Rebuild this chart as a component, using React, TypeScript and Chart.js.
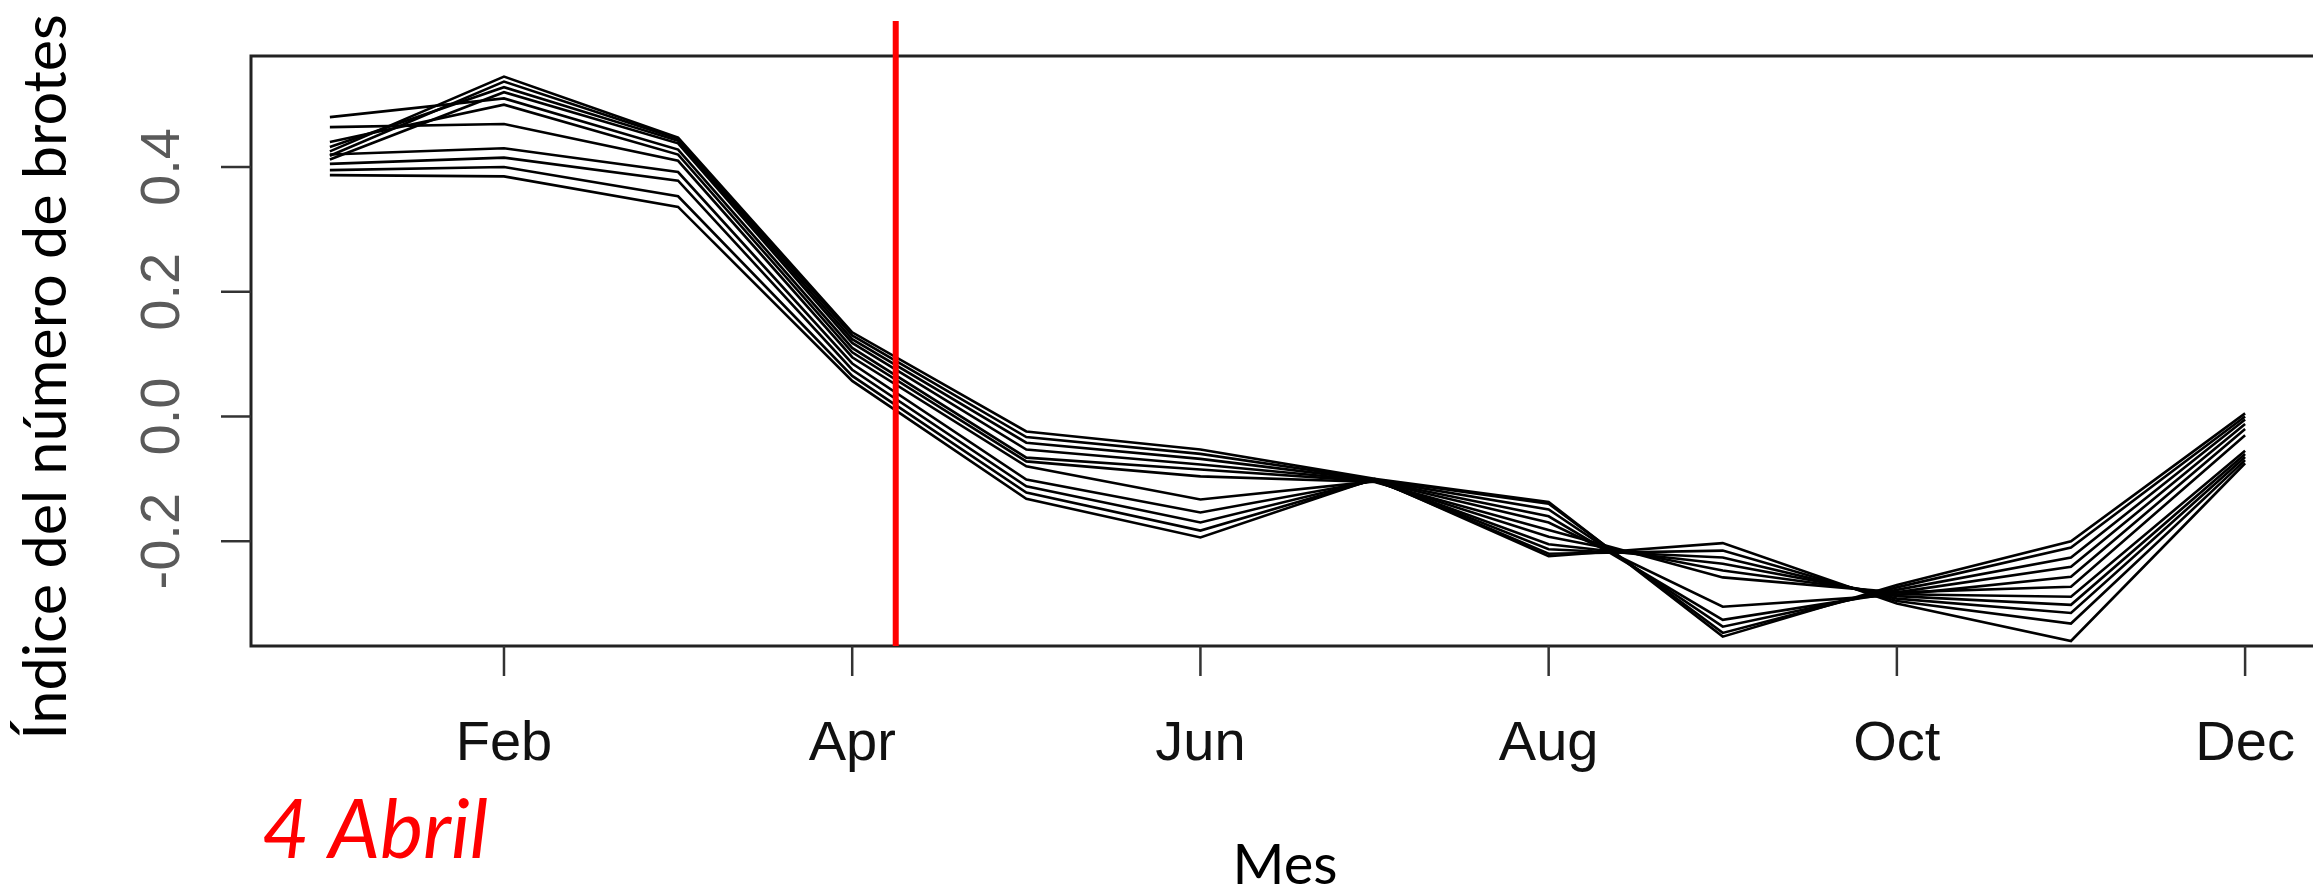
import React, { useEffect, useRef } from "react";
import { Chart, registerables } from "chart.js";

Chart.register(...registerables);

const months = ["Jan", "Feb", "Mar", "Apr", "May", "Jun", "Jul", "Aug", "Sep", "Oct", "Nov", "Dec"];
const tickMonths = [2, 4, 6, 8, 10, 12];
const yTicks = [-0.2, 0.0, 0.2, 0.4];
const yTickLabels = ["-0.2", "0.0", "0.2", "0.4"];
const redLineMonth = 4.25;

const L1 = [0.425, 0.545, 0.447, 0.135, -0.024, -0.053, -0.100, -0.224, -0.203, -0.300, -0.360, -0.075];
const L2 = [0.418, 0.537, 0.445, 0.130, -0.033, -0.060, -0.101, -0.220, -0.215, -0.296, -0.332, -0.070];
const L3 = [0.432, 0.528, 0.442, 0.124, -0.042, -0.068, -0.102, -0.213, -0.226, -0.292, -0.315, -0.065];
const L4 = [0.412, 0.520, 0.438, 0.118, -0.053, -0.077, -0.103, -0.205, -0.236, -0.288, -0.302, -0.060];
const L5 = [0.480, 0.510, 0.428, 0.110, -0.066, -0.085, -0.104, -0.193, -0.247, -0.285, -0.289, -0.055];
const L6 = [0.440, 0.500, 0.420, 0.103, -0.072, -0.096, -0.105, -0.182, -0.258, -0.282, -0.273, -0.030];
const L7 = [0.464, 0.469, 0.410, 0.095, -0.080, -0.133, -0.104, -0.170, -0.305, -0.286, -0.257, -0.020];
const L8 = [0.420, 0.430, 0.392, 0.085, -0.101, -0.154, -0.103, -0.160, -0.326, -0.282, -0.241, -0.012];
const L9 = [0.405, 0.415, 0.378, 0.075, -0.112, -0.170, -0.102, -0.149, -0.337, -0.278, -0.226, -0.005];
const L10 = [0.395, 0.400, 0.353, 0.065, -0.122, -0.183, -0.101, -0.140, -0.347, -0.274, -0.210, 0.000];
const L11 = [0.387, 0.385, 0.336, 0.057, -0.132, -0.194, -0.100, -0.137, -0.353, -0.270, -0.200, 0.005];

const seriesList = [L1, L2, L3, L4, L5, L6, L7, L8, L9, L10, L11];

function fitFont(ctx: CanvasRenderingContext2D, text: string, style: string, family: string, width: number) {
  ctx.font = `${style} 100px ${family}`;
  const w = ctx.measureText(text).width;
  const size = (100 * width) / w;
  return `${style} ${size.toFixed(1)}px ${family}`;
}

const decorPlugin = {
  id: "decor",
  afterDraw(chart: any) {
    const ctx: CanvasRenderingContext2D = chart.ctx;
    const xs = chart.scales.x;
    const ys = chart.scales.y;
    const area = chart.chartArea;
    const boxRight = xs.getPixelForValue(12.44);
    ctx.save();
    // box
    ctx.strokeStyle = "#222";
    ctx.lineWidth = 3;
    ctx.beginPath();
    ctx.rect(area.left, area.top, boxRight - area.left, area.bottom - area.top);
    ctx.stroke();
    // x ticks
    ctx.lineWidth = 2.5;
    ctx.strokeStyle = "#333";
    ctx.fillStyle = "#111";
    ctx.font = "56px 'Liberation Sans', Arial, sans-serif";
    ctx.textAlign = "center";
    ctx.textBaseline = "alphabetic";
    tickMonths.forEach((m) => {
      const px = xs.getPixelForValue(m);
      ctx.beginPath();
      ctx.moveTo(px, area.bottom);
      ctx.lineTo(px, area.bottom + 30);
      ctx.stroke();
      ctx.fillText(months[m - 1], px, 760);
    });
    // y ticks
    ctx.fillStyle = "#5a5a5a";
    yTicks.forEach((v, i) => {
      const py = ys.getPixelForValue(v);
      ctx.beginPath();
      ctx.moveTo(area.left, py);
      ctx.lineTo(area.left - 30, py);
      ctx.stroke();
      ctx.save();
      ctx.translate(179, py);
      ctx.rotate(-Math.PI / 2);
      ctx.textAlign = "center";
      ctx.fillText(yTickLabels[i], 0, 0);
      ctx.restore();
    });
    // red line
    const rx = xs.getPixelForValue(redLineMonth);
    ctx.strokeStyle = "#ff0000";
    ctx.lineWidth = 6;
    ctx.beginPath();
    ctx.moveTo(rx, 21);
    ctx.lineTo(rx, area.bottom);
    ctx.stroke();
    // y title
    ctx.fillStyle = "#000";
    ctx.save();
    ctx.translate(66, 377);
    ctx.rotate(-Math.PI / 2);
    ctx.font = fitFont(ctx, "Índice del número de brotes", "normal", "Lato, 'Open Sans', sans-serif", 726);
    ctx.textAlign = "center";
    ctx.fillText("Índice del número de brotes", 0, 0);
    ctx.restore();
    // x title
    ctx.font = fitFont(ctx, "Mes", "normal", "Lato, 'Open Sans', sans-serif", 105);
    ctx.textAlign = "center";
    ctx.fillText("Mes", 1285, 884);
    // annotation
    ctx.fillStyle = "#ff0000";
    ctx.font = fitFont(ctx, "4 Abril", "italic", "Lato, 'Open Sans', sans-serif", 226);
    ctx.textAlign = "left";
    ctx.fillText("4 Abril", 262, 858);
    ctx.restore();
  },
};

export default function App() {
  const ref = useRef<HTMLCanvasElement | null>(null);
  useEffect(() => {
    document.body.style.margin = "0";
    const canvas = ref.current;
    if (!canvas) return;
    const chart = new Chart(canvas, {
      type: "line",
      data: {
        datasets: seriesList.map((s, i) => ({
          label: `S${i + 1}`,
          data: s.map((v, j) => ({ x: j + 1, y: v })),
          borderColor: "#000",
          borderWidth: 2.6,
          pointRadius: 0,
          tension: 0,
          fill: false,
        })),
      },
      options: {
        responsive: false,
        devicePixelRatio: 1,
        animation: false,
        layout: { padding: { left: 251, top: 56, right: 0, bottom: 243 } },
        scales: {
          x: { type: "linear", min: 0.547, max: 12.39, display: false },
          y: { type: "linear", min: -0.368, max: 0.578, display: false },
        },
        plugins: { legend: { display: false }, tooltip: { enabled: false } },
      },
      plugins: [decorPlugin],
    });
    return () => chart.destroy();
  }, []);
  return (
    <div style={{ width: 2313, height: 889, background: "#fff" }}>
      <canvas ref={ref} width={2313} height={889} style={{ display: "block" }} />
    </div>
  );
}
